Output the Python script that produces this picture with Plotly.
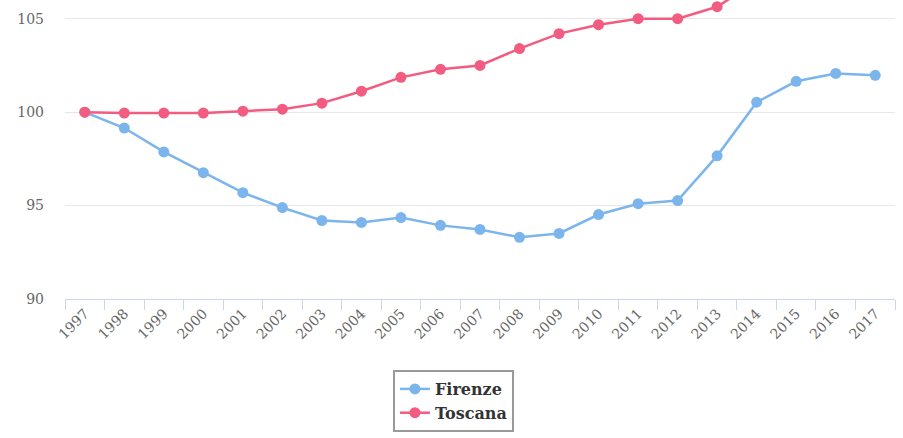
import plotly.graph_objects as go

years = [str(y) for y in range(1997, 2018)]
firenze = [100, 99.15, 97.87, 96.76, 95.69, 94.89, 94.2, 94.1, 94.36, 93.94, 93.72,
           93.3, 93.51, 94.52, 95.1, 95.27, 97.66, 100.53, 101.65, 102.07, 101.97]
toscana = [100, 99.95, 99.95, 99.95, 100.05, 100.16, 100.48, 101.12, 101.86, 102.29, 102.5,
           103.4, 104.2, 104.68, 105.0, 105.0, 105.64, 107.0, 107.5, 107.9, 108.1]
y_ticks = [90, 95, 100, 105]

FONT = "DejaVu Serif"

fig = go.Figure()
fig.add_trace(go.Scatter(x=years, y=firenze, name="Firenze", mode="lines+markers",
                         line=dict(color="#7cb5ec", width=2.5),
                         marker=dict(size=11, color="#7cb5ec"), cliponaxis=True))
fig.add_trace(go.Scatter(x=years, y=toscana, name="Toscana", mode="lines+markers",
                         line=dict(color="#f15c80", width=2.5),
                         marker=dict(size=11, color="#f15c80"), cliponaxis=True))

fig.update_layout(
    width=903, height=438,
    margin=dict(l=65, r=8, t=0, b=139),
    plot_bgcolor="white", paper_bgcolor="white",
    font=dict(family=FONT, color="#666666", size=13),
    xaxis=dict(type="category", tickangle=-45, showgrid=False, automargin=False,
               showline=True, linecolor="#ccd6eb", linewidth=1,
               ticks="outside", tickson="boundaries", ticklen=10, tickcolor="#ccd6eb",
               tickfont=dict(family=FONT, size=14, color="#666666"),
               range=[-0.5, 20.5]),
    yaxis=dict(range=[90, 106.0], tickvals=y_ticks, showgrid=True, gridcolor="#e6e6e6",
               automargin=False,
               zeroline=False, showline=False, ticks="", ticklabelstandoff=20,
               tickfont=dict(family=FONT, size=14, color="#666666")),
    legend=dict(orientation="v", x=0.468, xanchor="center", y=-0.2375, yanchor="top",
                bordercolor="#999999", borderwidth=2, bgcolor="white",
                font=dict(family=FONT, size=16, color="#333333", weight="bold"),
                tracegroupgap=3, itemwidth=30),
    showlegend=True,
)

fig.write_html("out.html", config={"displayModeBar": False},
               post_script="document.body.style.margin='0';")
